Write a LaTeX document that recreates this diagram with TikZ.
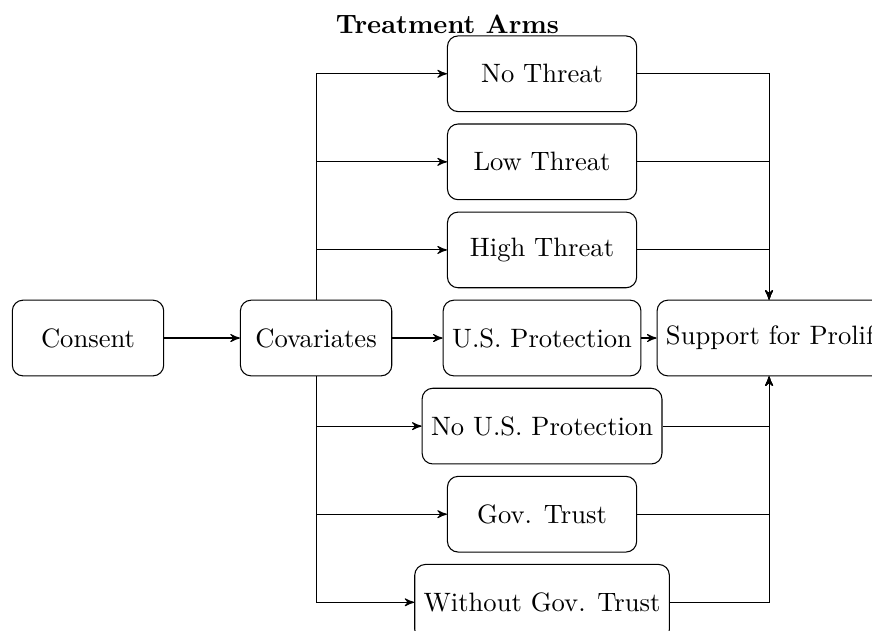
\documentclass[tikz,border=0pt]{standalone}
\usepackage{amsmath}
\usepackage{tikz}
\usetikzlibrary{arrows,positioning}

\begin{document}
\begin{tikzpicture}[->,>=stealth',auto,node distance=0.15cm,
box/.style={rectangle,draw,rounded corners,minimum height=1cm,minimum width=2cm},
arm/.style={box,minimum width=2.5cm}]

    \useasboundingbox (-1.163,-3.859) rectangle (10.36,4.467);

    \node[box] (consent) at (0,0) {Consent};
    \node[box] (cov) [right=1cm of consent] {Covariates};
    \node[arm] (usp) at (6,0) {U.S. Protection};
    \node[arm] (high) [above=of usp] {High Threat};
    \node[arm] (low) [above=of high] {Low Threat};
    \node[arm] (none) [above=of low] {No Threat};
    \node[arm] (nousp) [below=of usp] {No U.S. Protection};
    \node[arm] (gov) [below=of nousp] {Gov. Trust};
    \node[arm] (nogov) [below=of gov] {Without Gov. Trust};
    \node[box] (support) [right=0.2cm of usp] {Support for Proliferation};
    \coordinate (join) at (9,0);

    \node[font=\bfseries] (title) at (4.75,4.15) {Treatment Arms};

    \path (consent) edge (cov) (cov) edge (usp) (usp) edge (support);
    \foreach \arm in {none,low,high} {
      \draw (cov.north) |- (\arm.west);
      \draw (\arm.east) -| (join |- support.north);
    }
    \foreach \arm in {nousp,gov,nogov} {
      \draw (cov.south) |- (\arm.west);
      \draw (\arm.east) -| (join |- support.south);
    }
  \end{tikzpicture}
\end{document}
